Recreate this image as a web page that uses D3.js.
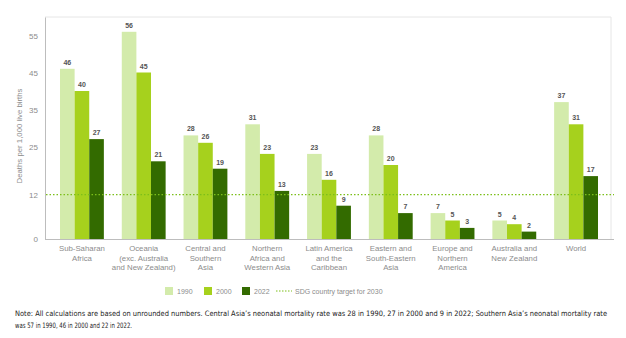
<!DOCTYPE html>
<html>
<head>
<meta charset="utf-8">
<script src="https://cdn.jsdelivr.net/npm/d3@7"></script>
<style>
body { margin: 0; background: #fff; }
svg { display: block; font-family: "Liberation Sans", Arial, sans-serif; }
</style>
</head>
<body>
<div id="chart"></div>
<script>
// Width and height
var w = 626;
var h = 338;

// Data
var regions = [
  ["Sub-Saharan", "Africa"],
  ["Oceania", "(exc. Australia", "and New Zealand)"],
  ["Central and", "Southern", "Asia"],
  ["Northern", "Africa and", "Western Asia"],
  ["Latin America", "and the", "Caribbean"],
  ["Eastern and", "South-Eastern", "Asia"],
  ["Europe and", "Northern", "America"],
  ["Australia and", "New Zealand"],
  ["World"]
];
var years = ["1990", "2000", "2022"];
var values1990 = [46, 56, 28, 31, 23, 28, 7, 5, 37];
var values2000 = [40, 45, 26, 23, 16, 20, 5, 4, 31];
var values2022 = [27, 21, 19, 13, 9, 7, 3, 2, 17];
var yTicks = [0, 12, 25, 35, 45, 55];
var sdgTarget = 12;
var colors = ["#d3ebab", "#a6d11d", "#336b00"];

var series = [values1990, values2000, values2022];

// Scales
var xScale = d3.scaleBand()
  .domain(d3.range(regions.length))
  .range([60, 598])
  .paddingInner(0.29)
  .paddingOuter(0);

var xInner = d3.scaleBand()
  .domain(years)
  .range([0, xScale.bandwidth()]);

var yScale = d3.scaleLinear()
  .domain([0, 60])
  .range([239, 17]);

var svg = d3.select("#chart")
  .append("svg")
  .attr("width", w)
  .attr("height", h);

// Frame
svg.append("path")
  .attr("d", "M45,17H611V239")
  .attr("fill", "none")
  .attr("stroke", "#e6e6e6")
  .attr("stroke-width", 1);

// y axis
var yAxis = d3.axisLeft(yScale)
  .tickValues(yTicks)
  .tickSize(0)
  .tickPadding(7);

var gy = svg.append("g")
  .attr("transform", "translate(45,0)")
  .call(yAxis);
gy.select(".domain").attr("stroke", "#bdbdbd");
gy.selectAll("text")
  .attr("fill", "#8c8c8c")
  .style("font-size", "8px");

svg.append("text")
  .attr("transform", "translate(22,136) rotate(-90)")
  .attr("text-anchor", "middle")
  .attr("fill", "#8c8c8c")
  .style("font-size", "7.8px")
  .text("Deaths per 1,000 live births");

// Bars
var groups = svg.append("g")
  .selectAll("g")
  .data(regions)
  .enter()
  .append("g")
  .attr("transform", function(d, i) { return "translate(" + xScale(i) + ",0)"; });

groups.each(function(d, i) {
  var g = d3.select(this);
  var vals = years.map(function(y, k) { return { year: y, k: k, v: series[k][i] }; });
  g.selectAll("rect")
    .data(vals)
    .enter()
    .append("rect")
    .attr("x", function(e) { return xInner(e.year); })
    .attr("y", function(e) { return yScale(e.v); })
    .attr("width", xInner.bandwidth())
    .attr("height", function(e) { return yScale(0) - yScale(e.v); })
    .attr("fill", function(e) { return colors[e.k]; });
  g.selectAll("text.val")
    .data(vals)
    .enter()
    .append("text")
    .attr("class", "val")
    .attr("x", function(e) { return xInner(e.year) + xInner.bandwidth() / 2; })
    .attr("y", function(e) { return yScale(e.v) - 4; })
    .attr("text-anchor", "middle")
    .attr("fill", "#555")
    .style("font-size", "7px")
    .style("font-weight", "bold")
    .text(function(e) { return e.v; });
});

// SDG target line
svg.append("line")
  .attr("x1", 46)
  .attr("x2", 614)
  .attr("y1", yScale(sdgTarget))
  .attr("y2", yScale(sdgTarget))
  .attr("stroke", "#7cbf1a")
  .attr("stroke-width", 1.2)
  .attr("stroke-dasharray", "1.5,2");

// Baseline
svg.append("line")
  .attr("x1", 45)
  .attr("x2", 614)
  .attr("y1", yScale(0) + 0.5)
  .attr("y2", yScale(0) + 0.5)
  .attr("stroke", "#bdbdbd");

// Category labels
groups.each(function(d, i) {
  var t = d3.select(this).append("text")
    .attr("text-anchor", "middle")
    .attr("fill", "#8c8c8c")
    .style("font-size", "7.8px");
  d.forEach(function(line, j) {
    t.append("tspan")
      .attr("x", xScale.bandwidth() / 2)
      .attr("y", 251 + j * 9.5)
      .text(line);
  });
});

// Legend
var legend = svg.append("g").attr("transform", "translate(165,292)");
var legItems = [
  { x: 0, label: "1990", c: colors[0] },
  { x: 39, label: "2000", c: colors[1] },
  { x: 77, label: "2022", c: colors[2] }
];
legItems.forEach(function(it) {
  legend.append("rect")
    .attr("x", it.x).attr("y", -5)
    .attr("width", 8).attr("height", 8)
    .attr("fill", it.c);
  legend.append("text")
    .attr("x", it.x + 12).attr("y", 2)
    .attr("fill", "#8c8c8c")
    .style("font-size", "7px")
    .text(it.label);
});
legend.append("line")
  .attr("x1", 111).attr("x2", 127)
  .attr("y1", -1).attr("y2", -1)
  .attr("stroke", "#7cbf1a")
  .attr("stroke-width", 1)
  .attr("stroke-dasharray", "1.5,1.5");
legend.append("text")
  .attr("x", 130).attr("y", 2)
  .attr("fill", "#8c8c8c")
  .style("font-size", "7px")
  .text("SDG country target for 2030");

// Note
var note = [
  "Note: All calculations are based on unrounded numbers. Central Asia\u2019s neonatal mortality rate was 28 in 1990, 27 in 2000 and 9 in 2022; Southern Asia\u2019s neonatal mortality rate",
  "was 57 in 1990, 46 in 2000 and 22 in 2022."
];
var noteLen = [592, 117];
note.forEach(function(line, i) {
  svg.append("text")
    .attr("x", 15)
    .attr("y", 316 + i * 12)
    .attr("fill", "#222")
    .style("font-family", "'Liberation Sans Narrow', 'DejaVu Sans Condensed', sans-serif")
    .style("font-size", "7.4px")
    .attr("textLength", noteLen[i])
    .attr("lengthAdjust", "spacingAndGlyphs")
    .text(line);
});
</script>
</body>
</html>
